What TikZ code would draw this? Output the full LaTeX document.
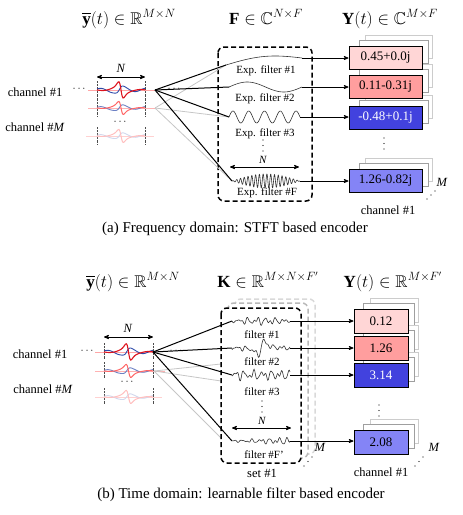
\documentclass[tikz,border=0pt]{standalone}
\usepackage{amsmath}
\usepackage{amssymb}
\usepackage{fontspec}
\setmainfont{Liberation Serif}
\usepackage{pgf,tikz}
\usetikzlibrary{arrows}
\usepackage{xcolor}
\definecolor{outpinkA}{RGB}{255,214,214}
\definecolor{outpinkB}{RGB}{255,158,158}
\definecolor{outblue}{RGB}{66,66,222}
\definecolor{outlav}{RGB}{132,132,246}
\definecolor{wavered}{RGB}{222,20,30}
\definecolor{waveblue}{RGB}{45,75,170}

\begin{document}
\begin{tikzpicture}[>=stealth', x=1pt, y=-1pt,
		declare function={
			bump(\v)=\v/((1+\v*\v)*(1+\v*\v));
			rw(\u)=24*bump((\u-0.5)/0.08)+0.7*sin(700*\u);
			bw(\u)=-1.8*sin(760*\u+30)-7*bump((\u-0.47)/0.1);
			nz(\u,\p)=2.4*sin(2300*\u+\p)+1.7*sin(3700*\u+2*\p)+1.1*sin(5300*\u+3*\p);
		},
		out box/.style={draw, line width=1pt, minimum width=73pt, minimum height=23pt, inner sep=0pt, font=\fontsize{13}{14}\selectfont},
		out box b/.style={out box, minimum width=54pt, minimum height=24pt},
		dashed box/.style={line width=1.5pt, dash pattern=on 5pt off 3pt, rounded corners=6pt},
		title/.style={font=\fontsize{17}{19}\selectfont, anchor=base},
		ch label/.style={font=\fontsize{12.5}{14}\selectfont, inner sep=1pt},
		flt label/.style={font=\fontsize{11}{12}\selectfont, inner sep=0.5pt},
		caption text/.style={font=\fontsize{15}{17}\selectfont},
		dots/.style={inner sep=0pt, font=\fontsize{11}{12}\selectfont},
		wave/.style={black!80, line width=0.6pt},
		edge/.style={line width=1pt},
		gray edge/.style={gray!45, line width=0.8pt}]

	\useasboundingbox (0,0) rectangle (463,515);

	%%%%%%%% (a) Frequency domain %%%%%%%%

	% Titles
	\node[title] (ta1) at (129,24) {$\overline{\mathbf{y}}(t)\in\mathbb{R}^{M\times N}$};
	\node[title] (ta2) at (266,24) {$\mathbf{F}\in\mathbb{C}^{N\times F}$};
	\node[title] (ta3) at (390,24) {$\mathbf{Y}(t)\in\mathbb{C}^{M\times F}$};

	% Rectangle
	\draw[dashed box] (218,47) rectangle (312,201);

	% Signals
	\node[ch label] (cha1) at (35,92) {channel \#1};
	\node[ch label] (cha2) at (35,127) {channel \#\textit{M}};
	\node[dots] (dota1) at (80,89) {$\cdots$};
	\node[dots] (dota2) at (121,122) {$\cdots$};
	\node[dots] (dota3) at (175,89) {$\cdots$};
	\foreach \yy in {90,108,136}
		\foreach \xx in {97,145}
			\draw[densely dotted, black!70] (\xx,\yy-9) -- (\xx,\yy+8);
	\coordinate (na1) at (97,77);
	\coordinate (na2) at (145,77);
	\draw[<->, line width=0.8pt] (na1) -- (na2);
	\node[ch label] (Na) at (121,68) {\textit{N}};

	\coordinate (sa1) at (155,90);
	\coordinate (sa2) at (155,108);
	\draw[red!35, line width=1pt] (88,90) -- (sa1);
	\draw[waveblue, line width=0.9pt] plot[domain=0:1, samples=60, smooth] ({97+48*\x},{90+bw(\x)});
	\draw[wavered, line width=1.1pt] plot[domain=0:1, samples=60, smooth] ({97+48*\x},{90+rw(\x)});
	\draw[red!30, line width=1pt] (88,108) -- (sa2);
	\draw[waveblue!70, line width=0.9pt] plot[domain=0:1, samples=60, smooth] ({97+48*\x},{108+0.8*bw(\x)});
	\draw[red!60, line width=1pt] plot[domain=0:1, samples=60, smooth] ({97+48*\x},{108+0.8*rw(\x)});
	\draw[red!18, line width=1pt] (86,136) -- (154,136);
	\draw[waveblue!22, line width=0.9pt] plot[domain=0:1, samples=60, smooth] ({97+48*\x},{136+0.8*bw(\x)});
	\draw[red!25, line width=1pt] plot[domain=0:1, samples=60, smooth] ({97+48*\x},{136+0.8*rw(\x)});

	% Filters
	\coordinate (fa1i) at (226,65);
	\coordinate (fa1o) at (302,58);
	\coordinate (fa2i) at (229,87);
	\coordinate (fa2o) at (302,87);
	\coordinate (fa3i) at (229,117);
	\coordinate (fa3o) at (300,117);
	\coordinate (faFi) at (232,181);
	\coordinate (faFo) at (300,181);
	\draw[wave] plot[domain=0:1, samples=40, smooth] ({226+76*\x},{65-7*\x-5*sin(180*\x)});
	\draw[wave] plot[domain=0:1, samples=40, smooth] ({229+73*\x},{87-5*sin(360*\x)});
	\draw[wave] plot[domain=0:1, samples=90, smooth] ({229+71*\x},{117-6*sin(1620*\x)});
	\draw[wave] plot[domain=0:1, samples=400] ({232+68*\x},{181-7*sin(180*\x)*sin(6480*\x)});
	\node[flt label] (la1) at (266,71) {Exp. filter \#1};
	\node[flt label] (la2) at (265,99) {Exp. filter \#2};
	\node[flt label] (la3) at (265,134) {Exp. filter \#3};
	\node[flt label] (laF) at (267,193) {Exp. filter \#F};
	\foreach \i in {0,1,2}
		\fill (263,140+5.5*\i) circle (0.7);
	\node[flt label] (Nfa) at (263,160) {\textit{N}};
	\coordinate (nfa1) at (230,167);
	\coordinate (nfa2) at (299,167);
	\draw[<->, line width=0.8pt] (nfa1) -- (nfa2);

	% Outputs
	\foreach \cy in {57.5,87,117.5,181}{
		\draw[gray!40, line width=0.8pt, fill=white] (365,\cy-22.5) rectangle (432,\cy+0.5);
		\draw[gray!75, line width=0.8pt, fill=white] (359,\cy-17.5) rectangle (428,\cy+5.5);
	}
	\node[out box, fill=outpinkA] (ya1) at (385.5,57.5) {0.45+0.0j};
	\node[out box, fill=outpinkB] (ya2) at (385.5,87) {0.11-0.31j};
	\node[out box, fill=outblue, text=white] (ya3) at (385.5,117.5) {-0.48+0.1j};
	\node[out box, fill=outlav] (ya4) at (385.5,181) {1.26-0.82j};
	\foreach \i in {0,1,2}
		\fill (384,138+5.5*\i) circle (0.7);
	\node[ch label] (Mya) at (442,182) {\textit{M}};
	\foreach \i in {0,1,2}
		\fill (427+4*\i,199-4*\i) circle (0.7);
	\node[ch label] (chya) at (388,210) {channel \#1};

	% Edges
	\draw[gray edge] (sa2) -- (fa1i);
	\draw[gray edge] (sa2) -- (fa3i);
	\draw[gray edge] (sa2) -- (faFi);
	\draw[edge] (sa1) -- (fa1i);
	\draw[edge] (sa1) -- (fa2i);
	\draw[edge] (sa1) -- (fa3i);
	\draw[edge] (sa1) -- (faFi);

	\draw[->, line width=0.7pt] (fa1o) -- (fa1o -| ya1.west);
	\draw[->, line width=0.7pt] (fa2o) -- (fa2o -| ya2.west);
	\draw[->, line width=0.7pt] (fa3o) -- (fa3o -| ya3.west);
	\draw[->, line width=0.7pt] (faFo) -- (faFo -| ya4.west);

	\node[caption text] (capa) at (235,229) {(a) Frequency domain: STFT based encoder};

	%%%%%%%% (b) Time domain %%%%%%%%

	% Titles
	\node[title] (tb1) at (133,287) {$\overline{\mathbf{y}}(t)\in\mathbb{R}^{M\times N}$};
	\node[title] (tb2) at (268,287) {$\mathbf{K}\in\mathbb{R}^{M\times N\times F'}$};
	\node[title] (tb3) at (393,287) {$\mathbf{Y}(t)\in\mathbb{R}^{M\times F'}$};

	% Signals
	\node[ch label] (chb1) at (40,354) {channel \#1};
	\node[ch label] (chb2) at (43,389) {channel \#\textit{M}};
	\node[dots] (dotb1) at (88,351) {$\cdots$};
	\node[dots] (dotb2) at (128,382) {$\cdots$};
	\node[dots] (dotb3) at (177,351) {$\cdots$};
	\foreach \yy in {352,371,397}
		\foreach \xx in {104,153}
			\draw[densely dotted, black!70] (\xx,\yy-9) -- (\xx,\yy+7);
	\coordinate (nb1) at (104,337);
	\coordinate (nb2) at (153,337);
	\draw[<->, line width=0.8pt] (nb1) -- (nb2);
	\node[ch label] (Nb) at (128,328) {\textit{N}};

	\coordinate (sb1) at (153,352);
	\coordinate (sb2) at (154,371);
	\draw[red!35, line width=1pt] (95,352) -- (sb1);
	\draw[waveblue, line width=0.9pt] plot[domain=0:1, samples=60, smooth] ({104+49*\x},{352+bw(\x)});
	\draw[wavered, line width=1.1pt] plot[domain=0:1, samples=60, smooth] ({104+49*\x},{352+rw(\x)});
	\draw[red!30, line width=1pt] (95,371) -- (165,371);
	\draw[waveblue!70, line width=0.9pt] plot[domain=0:1, samples=60, smooth] ({104+49*\x},{371+0.8*bw(\x)});
	\draw[red!60, line width=1pt] plot[domain=0:1, samples=60, smooth] ({104+49*\x},{371+0.8*rw(\x)});
	\draw[red!18, line width=1pt] (95,397) -- (162,397);
	\draw[waveblue!22, line width=0.9pt] plot[domain=0:1, samples=60, smooth] ({104+49*\x},{397+0.8*bw(\x)});
	\draw[red!25, line width=1pt] plot[domain=0:1, samples=60, smooth] ({104+49*\x},{397+0.8*rw(\x)});

	% Gray edges to the other sets
	\coordinate (gb1) at (221,364);
	\coordinate (gb2) at (221,381);
	\coordinate (gb3) at (221,438);
	\draw[gray edge] (sb2) -- (gb1);
	\draw[gray edge] (sb2) -- (gb2);
	\draw[gray edge] (sb2) -- (gb3);

	% Rectangles
	\draw[dashed box, gray!30, fill=white] (235,299) rectangle (315,454);
	\draw[dashed box, gray!55, fill=white] (228,303) rectangle (308,458);
	\draw[dashed box, fill=white] (221,308) rectangle (301,463);
	\node[ch label] (Mset) at (320,447) {\textit{M}};
	\foreach \i in {0,1,2}
		\fill (304+4*\i,466-4.5*\i) circle (0.7);
	\node[ch label] (setb) at (262,473) {set \#1};

	% Filters
	\coordinate (fb1i) at (232,321);
	\coordinate (fb1o) at (290,321);
	\coordinate (fb2i) at (232,348);
	\coordinate (fb2o) at (290,348);
	\coordinate (fb3i) at (232,375);
	\coordinate (fb3o) at (290,375);
	\coordinate (fbFi) at (232,441);
	\coordinate (fbFo) at (290,441);
	\draw[wave] plot[domain=0:1, samples=90] ({232+58*\x},{321+(0.35+0.65*sin(180*\x))*nz(\x,0)});
	\draw[wave] plot[domain=0:1, samples=90] ({232+58*\x},{348+0.6*nz(\x,70)-22*bump((\x-0.5)/0.08)});
	\draw[wave] plot[domain=0:1, samples=90] ({232+58*\x},{375+1.2*nz(\x,140)});
	\draw[wave] plot[domain=0:1, samples=90] ({232+58*\x},{441+(0.2+0.8*\x)*nz(\x,210)});
	\node[flt label] (lb1) at (262,335) {filter \#1};
	\node[flt label] (lb2) at (262,362) {filter \#2};
	\node[flt label] (lb3) at (262,392) {filter \#3};
	\node[flt label] (lbF) at (264,455) {filter \#F'};
	\foreach \i in {0,1,2}
		\fill (262,401+5.5*\i) circle (0.7);
	\node[flt label] (Nfb) at (262,421) {\textit{N}};
	\coordinate (nfb1) at (232,428);
	\coordinate (nfb2) at (291,428);
	\draw[<->, line width=0.8pt] (nfb1) -- (nfb2);

	% Outputs
	\foreach \cy in {321,348.5,375,442.5}{
		\draw[gray!40, line width=0.8pt, fill=white] (370,\cy-23) rectangle (418,\cy+1);
		\draw[gray!75, line width=0.8pt, fill=white] (363,\cy-18) rectangle (414,\cy+6);
	}
	\node[out box b, fill=outpinkA] (yb1) at (381,321) {0.12};
	\node[out box b, fill=outpinkB] (yb2) at (381,348.5) {1.26};
	\node[out box b, fill=outblue, text=white] (yb3) at (381,375) {3.14};
	\node[out box b, fill=outlav] (yb4) at (381,442.5) {2.08};
	\foreach \i in {0,1,2}
		\fill (379,405+5.5*\i) circle (0.7);
	\node[ch label] (Myb) at (434,447) {\textit{M}};
	\foreach \i in {0,1,2}
		\fill (415+4*\i,466-4.5*\i) circle (0.7);
	\node[ch label] (chyb) at (381,472) {channel \#1};

	% Edges
	\draw[edge] (sb1) -- (fb1i);
	\draw[edge] (sb1) -- (fb2i);
	\draw[edge] (sb1) -- (fb3i);
	\draw[edge] (sb1) -- (fbFi);

	\draw[->, line width=0.7pt] (fb1o) -- (fb1o -| yb1.west);
	\draw[->, line width=0.7pt] (fb2o) -- (fb2o -| yb2.west);
	\draw[->, line width=0.7pt] (fb3o) -- (fb3o -| yb3.west);
	\draw[->, line width=0.7pt] (fbFo) -- (fbFo -| yb4.west);

	\node[caption text] (capb) at (241,495) {(b) Time domain: learnable filter based encoder};
\end{tikzpicture}
\end{document}
